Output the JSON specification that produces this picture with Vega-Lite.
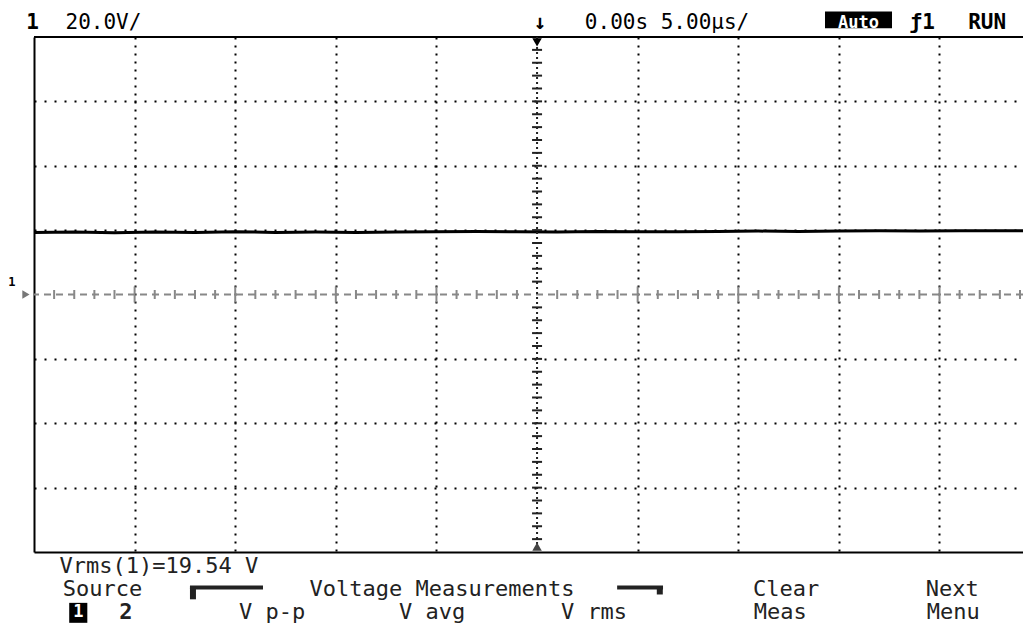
{
  "$schema": "https://vega.github.io/schema/vega-lite/v6.json",
  "width": 989,
  "height": 515,
  "autosize": {"type": "none"},
  "padding": {"left": 34, "top": 37, "right": 0, "bottom": 73},
  "background": "white",
  "config": {"view": {"stroke": null}, "text": {"font": "DejaVu Sans Mono"}},
  "datasets": {
    "trace": [
      {"t": -25, "v": 19.3}, {"t": -23, "v": 19.4}, {"t": -21, "v": 19.2}, {"t": -19, "v": 19.4},
      {"t": -17, "v": 19.3}, {"t": -15, "v": 19.5}, {"t": -13, "v": 19.3}, {"t": -11, "v": 19.4},
      {"t": -9, "v": 19.3}, {"t": -7, "v": 19.4}, {"t": -5, "v": 19.5}, {"t": -3, "v": 19.6},
      {"t": -1, "v": 19.5}, {"t": 1, "v": 19.4}, {"t": 3, "v": 19.6}, {"t": 5, "v": 19.5},
      {"t": 7, "v": 19.5}, {"t": 9, "v": 19.6}, {"t": 11, "v": 19.7}, {"t": 13, "v": 19.6},
      {"t": 15, "v": 19.7}, {"t": 17, "v": 19.8}, {"t": 19, "v": 19.7}, {"t": 21, "v": 19.8},
      {"t": 23, "v": 19.8}, {"t": 24.15, "v": 19.8}
    ],
    "xminor": [
      {"t": -24}, {"t": -23}, {"t": -22}, {"t": -21}, {"t": -19}, {"t": -18}, {"t": -17}, {"t": -16},
      {"t": -14}, {"t": -13}, {"t": -12}, {"t": -11}, {"t": -9}, {"t": -8}, {"t": -7}, {"t": -6},
      {"t": -4}, {"t": -3}, {"t": -2}, {"t": -1}, {"t": 1}, {"t": 2}, {"t": 3}, {"t": 4},
      {"t": 6}, {"t": 7}, {"t": 8}, {"t": 9}, {"t": 11}, {"t": 12}, {"t": 13}, {"t": 14},
      {"t": 16}, {"t": 17}, {"t": 18}, {"t": 19}, {"t": 21}, {"t": 22}, {"t": 23}, {"t": 24}
    ],
    "xmajor": [
      {"t": -20}, {"t": -15}, {"t": -10}, {"t": -5}, {"t": 5}, {"t": 10}, {"t": 15}, {"t": 20}
    ],
    "yminor": [
      {"v": -76}, {"v": -72}, {"v": -68}, {"v": -64}, {"v": -60}, {"v": -56}, {"v": -52}, {"v": -48},
      {"v": -44}, {"v": -40}, {"v": -36}, {"v": -32}, {"v": -28}, {"v": -24}, {"v": -20}, {"v": -16},
      {"v": -12}, {"v": -8}, {"v": -4}, {"v": 4}, {"v": 8}, {"v": 12}, {"v": 16}, {"v": 20},
      {"v": 24}, {"v": 28}, {"v": 32}, {"v": 36}, {"v": 40}, {"v": 44}, {"v": 48}, {"v": 52},
      {"v": 56}, {"v": 60}, {"v": 64}, {"v": 68}, {"v": 72}, {"v": 76}
    ],
    "labelsTop": [
      {"t": -21.55, "v": 84.3, "text": "20.0V/"},
      {"t": 6.46, "v": 84.3, "text": "0.00s 5.00µs/"}
    ],
    "labelsTopBold": [
      {"t": -25.07, "v": 84.3, "text": "1"},
      {"t": 0.15, "v": 84.3, "text": "↓"},
      {"t": 19.14, "v": 84.3, "text": "ƒ1"},
      {"t": 22.37, "v": 84.3, "text": "RUN"}
    ],
    "labelsBottom": [
      {"t": -18.79, "v": -84.2, "text": "Vrms(1)=19.54 V"},
      {"t": -21.6, "v": -91.4, "text": "Source"},
      {"t": -4.72, "v": -91.4, "text": "Voltage Measurements"},
      {"t": 12.38, "v": -91.4, "text": "Clear"},
      {"t": 20.63, "v": -91.4, "text": "Next"},
      {"t": -13.17, "v": -98.6, "text": "V p-p"},
      {"t": -5.22, "v": -98.6, "text": "V avg"},
      {"t": 2.83, "v": -98.6, "text": "V rms"},
      {"t": 12.08, "v": -98.6, "text": "Meas"},
      {"t": 20.68, "v": -98.6, "text": "Menu"}
    ],
    "labelsBottomBold": [
      {"t": -20.43, "v": -98.6, "text": "2"}
    ],
    "inverseBoxes": [
      {"t1": 14.31, "t2": 17.64, "v1": 82.7, "v2": 87.9, "tc": 15.97, "vc": 84.3, "text": "Auto"},
      {"t1": -23.25, "t2": -22.35, "v1": -95.8, "v2": -102, "tc": -22.8, "vc": -98.6, "text": "1"}
    ],
    "bracketH": [
      {"t1": -17.25, "t2": -13.62, "v": -91.0},
      {"t1": 3.98, "t2": 6.26, "v": -91.0}
    ],
    "bracketV": [
      {"t": -17.1, "v1": -91.0, "v2": -94.7},
      {"t": 6.1, "v1": -91.0, "v2": -93.2}
    ]
  },
  "layer": [
    {
      "data": {"name": "trace"},
      "mark": {"type": "line", "color": "black", "strokeWidth": 3},
      "encoding": {
        "x": {
          "field": "t", "type": "quantitative",
          "scale": {"domain": [-25, 24.15], "nice": false, "zero": false},
          "axis": {
            "values": [-20, -15, -10, -5, 5, 10, 15, 20],
            "grid": true, "gridDash": [2, 6], "gridColor": "black", "gridWidth": 2, "gridOpacity": 1,
            "labels": false, "ticks": false, "title": null,
            "domain": true, "domainColor": "black", "domainWidth": 2
          }
        },
        "y": {
          "field": "v", "type": "quantitative",
          "scale": {"domain": [-80, 80], "nice": false, "zero": false},
          "axis": {
            "values": [-60, -40, -20, 20, 40, 60],
            "grid": true, "gridDash": [2, 8], "gridColor": "black", "gridWidth": 2, "gridOpacity": 1,
            "labels": false, "ticks": false, "title": null,
            "domain": true, "domainColor": "black", "domainWidth": 2
          }
        }
      }
    },
    {
      "data": {"values": [{}]},
      "mark": {"type": "rule", "color": "black", "strokeWidth": 2},
      "encoding": {"y": {"datum": 80, "type": "quantitative"}}
    },
    {
      "data": {"values": [{}]},
      "mark": {"type": "rule", "color": "#888888", "strokeWidth": 2, "strokeDash": [7, 5]},
      "encoding": {"y": {"datum": 0, "type": "quantitative"}}
    },
    {
      "data": {"values": [{}]},
      "mark": {"type": "rule", "color": "#222222", "strokeWidth": 2, "strokeDash": [2, 3]},
      "encoding": {"x": {"datum": 0, "type": "quantitative"}}
    },
    {
      "data": {"name": "xminor"},
      "mark": {"type": "tick", "orient": "vertical", "color": "#888888", "size": 9, "thickness": 2, "opacity": 1},
      "encoding": {
        "x": {"field": "t", "type": "quantitative"},
        "y": {"datum": 0, "type": "quantitative"}
      }
    },
    {
      "data": {"name": "xmajor"},
      "mark": {"type": "tick", "orient": "vertical", "color": "#888888", "size": 16, "thickness": 2, "opacity": 1},
      "encoding": {
        "x": {"field": "t", "type": "quantitative"},
        "y": {"datum": 0, "type": "quantitative"}
      }
    },
    {
      "data": {"name": "yminor"},
      "mark": {"type": "tick", "orient": "horizontal", "color": "#222222", "size": 10, "thickness": 2, "opacity": 1},
      "encoding": {
        "y": {"field": "v", "type": "quantitative"},
        "x": {"datum": 0, "type": "quantitative"}
      }
    },
    {
      "data": {"values": [{}]},
      "mark": {"type": "point", "shape": "triangle-down", "filled": true, "color": "black", "size": 90, "opacity": 1},
      "encoding": {"x": {"datum": 0, "type": "quantitative"}, "y": {"datum": 78.3, "type": "quantitative"}}
    },
    {
      "data": {"values": [{}]},
      "mark": {"type": "point", "shape": "triangle-up", "filled": true, "color": "#444444", "size": 90, "opacity": 1},
      "encoding": {"x": {"datum": 0, "type": "quantitative"}, "y": {"datum": -78.3, "type": "quantitative"}}
    },
    {
      "data": {"values": [{}]},
      "mark": {"type": "point", "shape": "triangle-right", "filled": true, "color": "#777777", "size": 70, "opacity": 1},
      "encoding": {"x": {"datum": -25.4, "type": "quantitative"}, "y": {"datum": 0, "type": "quantitative"}}
    },
    {
      "data": {"values": [{}]},
      "mark": {"type": "text", "text": "1", "fontSize": 12, "fontWeight": "bold", "color": "black"},
      "encoding": {"x": {"datum": -26.1, "type": "quantitative"}, "y": {"datum": 4, "type": "quantitative"}}
    },
    {
      "data": {"name": "labelsTop"},
      "mark": {"type": "text", "fontSize": 21, "color": "black", "baseline": "middle", "align": "center"},
      "encoding": {
        "x": {"field": "t", "type": "quantitative"},
        "y": {"field": "v", "type": "quantitative"},
        "text": {"field": "text"}
      }
    },
    {
      "data": {"name": "labelsTopBold"},
      "mark": {"type": "text", "fontSize": 21, "fontWeight": "bold", "color": "black", "baseline": "middle", "align": "center"},
      "encoding": {
        "x": {"field": "t", "type": "quantitative"},
        "y": {"field": "v", "type": "quantitative"},
        "text": {"field": "text"}
      }
    },
    {
      "data": {"name": "labelsBottom"},
      "mark": {"type": "text", "fontSize": 22, "color": "#222222", "baseline": "middle", "align": "center"},
      "encoding": {
        "x": {"field": "t", "type": "quantitative"},
        "y": {"field": "v", "type": "quantitative"},
        "text": {"field": "text"}
      }
    },
    {
      "data": {"name": "labelsBottomBold"},
      "mark": {"type": "text", "fontSize": 22, "fontWeight": "bold", "color": "#222222", "baseline": "middle", "align": "center"},
      "encoding": {
        "x": {"field": "t", "type": "quantitative"},
        "y": {"field": "v", "type": "quantitative"},
        "text": {"field": "text"}
      }
    },
    {
      "data": {"name": "inverseBoxes"},
      "mark": {"type": "rect", "color": "black", "opacity": 1},
      "encoding": {
        "x": {"field": "t1", "type": "quantitative"},
        "x2": {"field": "t2"},
        "y": {"field": "v1", "type": "quantitative"},
        "y2": {"field": "v2"}
      }
    },
    {
      "data": {"name": "inverseBoxes"},
      "mark": {"type": "text", "fontSize": 17, "fontWeight": "bold", "color": "white", "baseline": "middle", "align": "center"},
      "encoding": {
        "x": {"field": "tc", "type": "quantitative"},
        "y": {"field": "vc", "type": "quantitative"},
        "text": {"field": "text"}
      }
    },
    {
      "data": {"name": "bracketH"},
      "mark": {"type": "rule", "color": "#222222", "strokeWidth": 4},
      "encoding": {
        "x": {"field": "t1", "type": "quantitative"},
        "x2": {"field": "t2"},
        "y": {"field": "v", "type": "quantitative"}
      }
    },
    {
      "data": {"name": "bracketV"},
      "mark": {"type": "rule", "color": "#222222", "strokeWidth": 6},
      "encoding": {
        "x": {"field": "t", "type": "quantitative"},
        "y": {"field": "v1", "type": "quantitative"},
        "y2": {"field": "v2"}
      }
    }
  ]
}
